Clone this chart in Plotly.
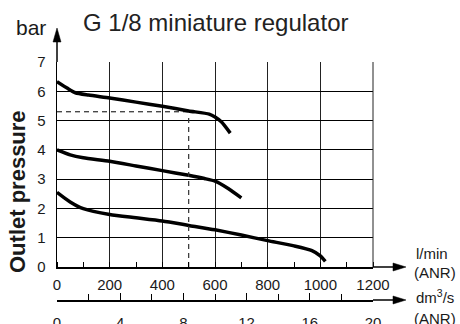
import plotly.graph_objects as go

# ---- data ----
flow_top = [0, 40, 70, 120, 200, 300, 400, 500, 578, 600, 625, 658]
p_top = [6.33, 6.1, 5.95, 5.87, 5.77, 5.63, 5.49, 5.33, 5.22, 5.12, 4.95, 4.57]

flow_mid = [0, 50, 100, 200, 300, 400, 500, 560, 600, 650, 700]
p_mid = [4.0, 3.83, 3.73, 3.61, 3.45, 3.29, 3.13, 3.02, 2.93, 2.68, 2.36]

flow_bot = [0, 50, 100, 200, 300, 400, 500, 600, 700, 800, 900, 968, 1000, 1019]
p_bot = [2.55, 2.22, 1.99, 1.79, 1.68, 1.57, 1.42, 1.27, 1.09, 0.90, 0.72, 0.56, 0.38, 0.19]

dash_flow = 500
dash_pressure = 5.3

x_ticks = [0, 200, 400, 600, 800, 1000, 1200]
x2_ticks = [0, 4, 8, 12, 16, 20]
y_ticks = [0, 1, 2, 3, 4, 5, 6, 7]

title_text = "G 1/8 miniature regulator"
y_title = "Outlet pressure"
y_unit = "bar"

# ---- layout geometry (pixels) ----
W, H = 460, 324
ML, MR, MT, MB = 57, 87, 62, 24
PW = W - ML - MR
PH = H - MT - MB
PLOT_BOTTOM = 267


def px(x):
    return (x - ML) / PW


def py(y):
    return (H - MB - y) / PH


FONT = "Liberation Sans, Arial, sans-serif"
TXT = "#1a1a1a"

fig = go.Figure()

for fx, fp in [(flow_top, p_top), (flow_mid, p_mid), (flow_bot, p_bot)]:
    fig.add_trace(go.Scatter(x=fx, y=fp, mode="lines",
                             line=dict(color="black", width=3.5, shape="spline", smoothing=0.6),
                             showlegend=False, hoverinfo="skip", cliponaxis=False))

# dashed reference lines
fig.add_trace(go.Scatter(x=[0, dash_flow], y=[dash_pressure, dash_pressure], mode="lines",
                         line=dict(color="black", width=1, dash="5px,4px"),
                         showlegend=False, hoverinfo="skip"))
fig.add_trace(go.Scatter(x=[dash_flow, dash_flow], y=[0, dash_pressure - 0.2], mode="lines",
                         line=dict(color="#333", width=1.2, dash="5px,4px"),
                         showlegend=False, hoverinfo="skip"))
# dummy trace for secondary axis
fig.add_trace(go.Scatter(x=[0, 20], y=[None, None], xaxis="x2", yaxis="y",
                         mode="lines", showlegend=False, hoverinfo="skip"))

ydom0 = py(PLOT_BOTTOM)

fig.update_layout(
    width=W, height=H,
    margin=dict(l=ML, r=MR, t=MT, b=MB, pad=0, autoexpand=False),
    paper_bgcolor="white", plot_bgcolor="white",
    hovermode=False,
    font=dict(family=FONT, color=TXT, size=15),
    xaxis=dict(range=[0, 1200], tickvals=x_ticks, showgrid=True, gridcolor="#222", gridwidth=1,
               zeroline=False, showline=True, linecolor="black", linewidth=1.5, automargin=False,
               ticks="", tickfont=dict(size=15, color=TXT), anchor="y",
               ticklabelstandoff=3,
               minor=dict(dtick=100, ticks="inside", ticklen=5, tickcolor="black", showgrid=False)),
    xaxis2=dict(range=[0, 20], tickvals=x2_ticks, overlaying="x", anchor="free", position=0,
                side="bottom", showgrid=False, zeroline=False, showline=True, linecolor="black",
                linewidth=1.5, ticks="inside", ticklen=7, tickcolor="black", automargin=False,
                tickfont=dict(size=15, color=TXT), ticklabelstandoff=8,
                minor=dict(dtick=2, ticks="inside", ticklen=6, tickcolor="black")),
    yaxis=dict(range=[0, 7], tickvals=y_ticks, domain=[ydom0, 1], showgrid=True, gridcolor="black",
               gridwidth=1, zeroline=False, showline=True, linecolor="black", linewidth=1.5,
               automargin=False,
               ticks="", tickfont=dict(size=15, color=TXT), ticklabelstandoff=7),
)

shapes = []
# right border (1200 gridline)
shapes.append(dict(type="line", xref="paper", yref="paper", x0=1, x1=1, y0=ydom0, y1=1,
                   line=dict(color="#222", width=1)))
yx = py(PLOT_BOTTOM)
# main x-axis extension and arrow
shapes.append(dict(type="line", xref="paper", yref="paper", x0=1, x1=px(396), y0=yx, y1=yx,
                   line=dict(color="black", width=1.5)))
shapes.append(dict(type="path", xref="paper", yref="paper",
                   path=f"M {px(406)} {yx} L {px(393)} {py(PLOT_BOTTOM - 4)} L {px(393)} {py(PLOT_BOTTOM + 4)} Z",
                   fillcolor="black", line=dict(color="black", width=0.5)))
# secondary x-axis extension and arrow
y2 = 0
shapes.append(dict(type="line", xref="paper", yref="paper", x0=1, x1=px(396), y0=y2, y1=y2,
                   line=dict(color="black", width=1.5)))
shapes.append(dict(type="path", xref="paper", yref="paper",
                   path=f"M {px(406)} {y2} L {px(393)} {py(300 - 4)} L {px(393)} {py(300 + 4)} Z",
                   fillcolor="black", line=dict(color="black", width=0.5)))
# y-axis extension and arrow
shapes.append(dict(type="line", xref="paper", yref="paper", x0=0, x1=0, y0=1, y1=py(40),
                   line=dict(color="black", width=1.5)))
shapes.append(dict(type="path", xref="paper", yref="paper",
                   path=f"M 0 {py(28)} L {px(53)} {py(42)} L {px(61)} {py(42)} Z",
                   fillcolor="black", line=dict(color="black", width=0.5)))
fig.update_layout(shapes=shapes)

ann = [
    dict(text=title_text, x=px(81), y=py(23), xanchor="left", yanchor="middle",
         font=dict(size=24, color="#222")),
    dict(text=y_unit, x=px(31), y=py(27), xanchor="center", yanchor="middle",
         font=dict(size=21, color=TXT)),
    dict(text=f"<b>{y_title}</b>", x=px(17), y=py(192), xanchor="center", yanchor="middle",
         textangle=-90, font=dict(size=22, color=TXT)),
    dict(text="l/min", x=px(432), y=py(253), xanchor="center", yanchor="middle",
         font=dict(size=15, color=TXT)),
    dict(text="(ANR)", x=px(435), y=py(272), xanchor="center", yanchor="middle",
         font=dict(size=15, color=TXT)),
    dict(text="dm<sup>3</sup>/s", x=px(435), y=py(296), xanchor="center", yanchor="middle",
         font=dict(size=15, color=TXT)),
    dict(text="(ANR)", x=px(435), y=py(318), xanchor="center", yanchor="middle",
         font=dict(size=15, color=TXT)),
]
for a in ann:
    a.update(xref="paper", yref="paper", showarrow=False)
fig.update_layout(annotations=ann)

fig.write_html("out.html", config={"displayModeBar": False, "staticPlot": True},
               post_script="document.body.style.margin='0';document.body.style.overflow='hidden';")
